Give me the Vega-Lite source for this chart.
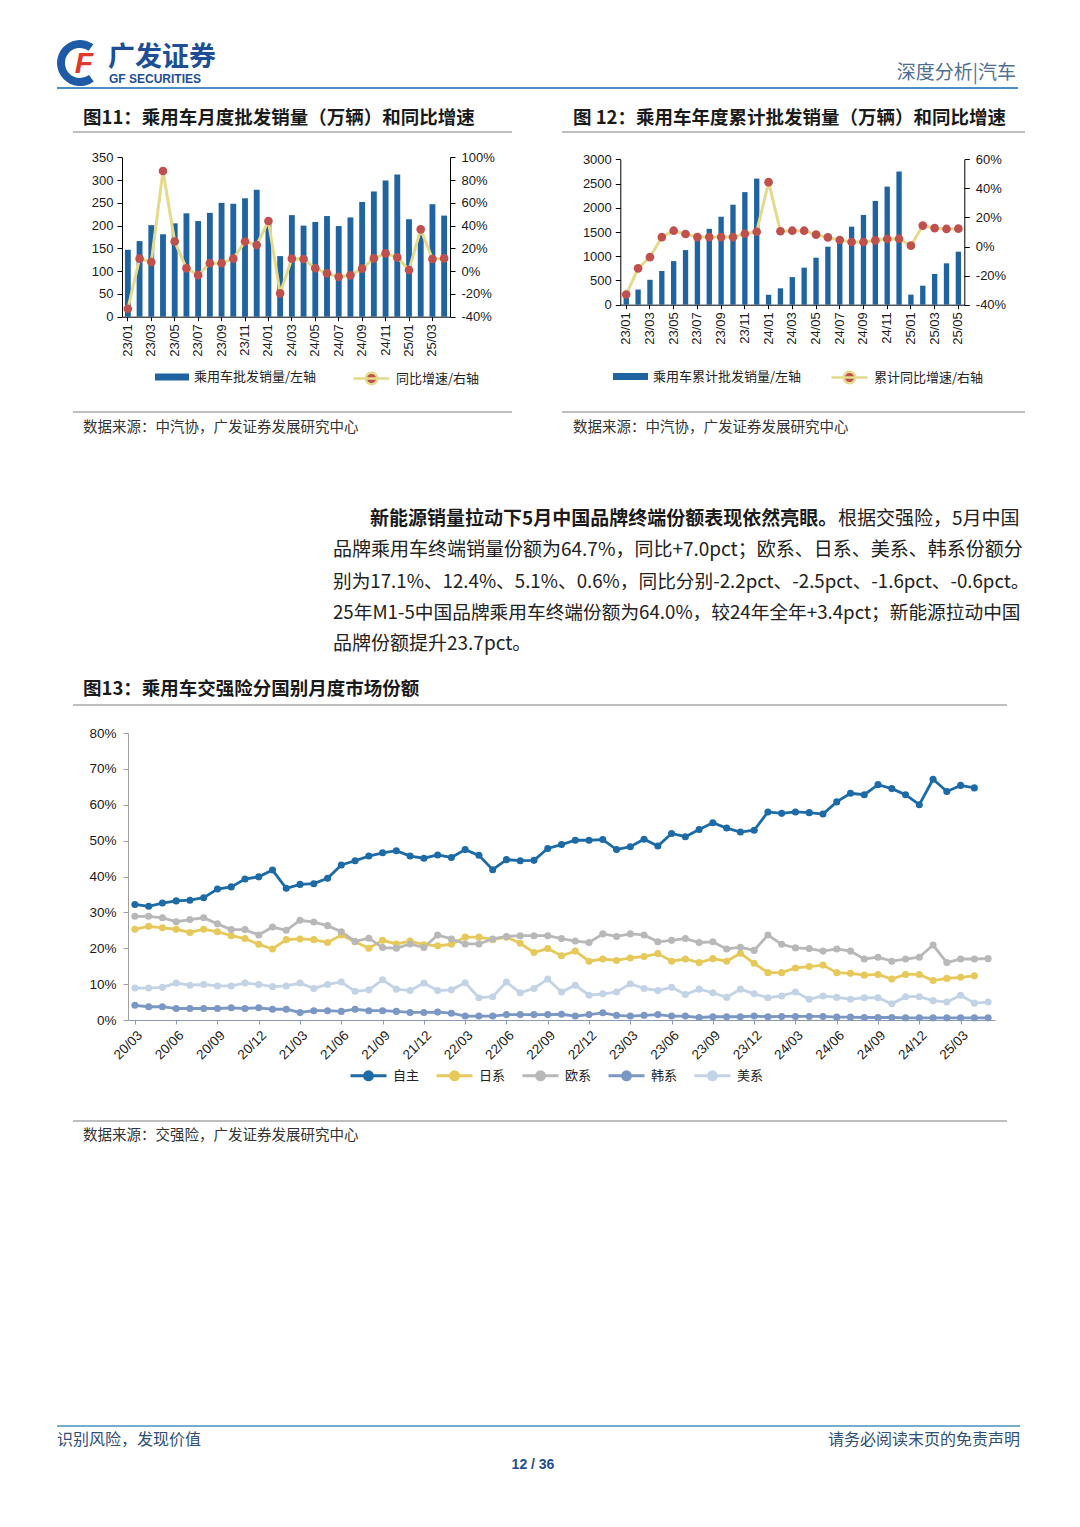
{
  "$schema": "https://vega.github.io/schema/vega-lite/v6.json",
  "width": 1080,
  "height": 1527,
  "autosize": {"type": "none"},
  "padding": 0,
  "background": "white",
  "config": {
    "view": {"stroke": null},
    "axis": {"labelFont": "Liberation Sans", "labelColor": "#1a1a1a", "labelFontSize": 13, "grid": false, "title": null, "domainColor": "#000000", "tickColor": "#000000"},
    "legend": {"labelFont": "Noto Sans CJK SC", "labelFontSize": 13, "labelColor": "#222222", "title": null},
    "text": {"font": "Noto Sans CJK SC"}
  },
  "datasets": {
    "one": [{"k": 1}],
    "m11": [
      {"m": "23/01", "sales": 147, "yoy": -33}, {"m": "23/02", "sales": 166, "yoy": 11}, {"m": "23/03", "sales": 201, "yoy": 8},
      {"m": "23/04", "sales": 181, "yoy": 88}, {"m": "23/05", "sales": 205, "yoy": 26}, {"m": "23/06", "sales": 227, "yoy": 2.5},
      {"m": "23/07", "sales": 210, "yoy": -3.5}, {"m": "23/08", "sales": 228, "yoy": 7}, {"m": "23/09", "sales": 250, "yoy": 7},
      {"m": "23/10", "sales": 248, "yoy": 11}, {"m": "23/11", "sales": 260, "yoy": 26}, {"m": "23/12", "sales": 279, "yoy": 23},
      {"m": "24/01", "sales": 205, "yoy": 44}, {"m": "24/02", "sales": 133, "yoy": -19.5}, {"m": "24/03", "sales": 223, "yoy": 11},
      {"m": "24/04", "sales": 200, "yoy": 10.7}, {"m": "24/05", "sales": 208, "yoy": 2.5}, {"m": "24/06", "sales": 221, "yoy": -2},
      {"m": "24/07", "sales": 199, "yoy": -5}, {"m": "24/08", "sales": 218, "yoy": -3.7}, {"m": "24/09", "sales": 252, "yoy": 2.2},
      {"m": "24/10", "sales": 275, "yoy": 11.2}, {"m": "24/11", "sales": 299, "yoy": 15.6}, {"m": "24/12", "sales": 312, "yoy": 12.1},
      {"m": "25/01", "sales": 214, "yoy": 1}, {"m": "25/02", "sales": 181, "yoy": 36.7}, {"m": "25/03", "sales": 247, "yoy": 10.7},
      {"m": "25/04", "sales": 222, "yoy": 11.2}
    ],
    "m12": [
      {"m": "23/01", "cum": 147, "yoy": -33}, {"m": "23/02", "cum": 313, "yoy": -15}, {"m": "23/03", "cum": 514, "yoy": -7.3},
      {"m": "23/04", "cum": 695, "yoy": 6.5}, {"m": "23/05", "cum": 900, "yoy": 10.9}, {"m": "23/06", "cum": 1127, "yoy": 8.6},
      {"m": "23/07", "cum": 1337, "yoy": 6.5}, {"m": "23/08", "cum": 1565, "yoy": 6.5}, {"m": "23/09", "cum": 1815, "yoy": 6.5},
      {"m": "23/10", "cum": 2063, "yoy": 6.5}, {"m": "23/11", "cum": 2323, "yoy": 8.8}, {"m": "23/12", "cum": 2602, "yoy": 10.2},
      {"m": "24/01", "cum": 205, "yoy": 44.3}, {"m": "24/02", "cum": 338, "yoy": 10.5}, {"m": "24/03", "cum": 570, "yoy": 10.9},
      {"m": "24/04", "cum": 764, "yoy": 10.9}, {"m": "24/05", "cum": 970, "yoy": 8.2}, {"m": "24/06", "cum": 1197, "yoy": 6.3},
      {"m": "24/07", "cum": 1395, "yoy": 4.5}, {"m": "24/08", "cum": 1610, "yoy": 3.1}, {"m": "24/09", "cum": 1852, "yoy": 3.1},
      {"m": "24/10", "cum": 2141, "yoy": 4.2}, {"m": "24/11", "cum": 2436, "yoy": 5.2}, {"m": "24/12", "cum": 2746, "yoy": 5.4},
      {"m": "25/01", "cum": 208, "yoy": 0.6}, {"m": "25/02", "cum": 392, "yoy": 14.4}, {"m": "25/03", "cum": 634, "yoy": 12.7},
      {"m": "25/04", "cum": 854, "yoy": 12.1}, {"m": "25/05", "cum": 1094, "yoy": 12.3}
    ],
    "m13": [
      {"m": "20/03", "自主": 32.2, "日系": 25.3, "欧系": 28.9, "韩系": 4.1, "美系": 8.9},
      {"m": "20/04", "自主": 31.7, "日系": 26.1, "欧系": 28.9, "韩系": 3.7, "美系": 8.9},
      {"m": "20/05", "自主": 32.6, "日系": 25.7, "欧系": 28.5, "韩系": 3.7, "美系": 9.1},
      {"m": "20/06", "自主": 33.2, "日系": 25.3, "欧系": 27.4, "韩系": 3.2, "美系": 10.3},
      {"m": "20/07", "自主": 33.4, "日系": 24.4, "欧系": 28.0, "韩系": 3.2, "美系": 9.7},
      {"m": "20/08", "自主": 34.1, "日系": 25.3, "欧系": 28.5, "韩系": 3.2, "美系": 9.9},
      {"m": "20/09", "自主": 36.5, "日系": 24.6, "欧系": 26.8, "韩系": 3.2, "美系": 9.5},
      {"m": "20/10", "自主": 37.1, "日系": 23.5, "欧系": 25.2, "韩系": 3.4, "美系": 9.5},
      {"m": "20/11", "自主": 39.3, "日系": 22.7, "欧系": 25.2, "韩系": 3.2, "美系": 10.3},
      {"m": "20/12", "自主": 39.9, "日系": 21.1, "欧系": 23.7, "韩系": 3.4, "美系": 9.9},
      {"m": "21/01", "自主": 41.8, "日系": 19.8, "欧系": 25.9, "韩系": 3.0, "美系": 9.3},
      {"m": "21/02", "自主": 36.7, "日系": 22.4, "欧系": 25.0, "韩系": 3.0, "美系": 9.5},
      {"m": "21/03", "自主": 37.8, "日系": 22.6, "欧系": 27.8, "韩系": 2.1, "美系": 10.3},
      {"m": "21/04", "自主": 38.0, "日系": 22.4, "欧系": 27.3, "韩系": 2.6, "美系": 8.8},
      {"m": "21/05", "自主": 39.5, "日系": 21.6, "欧系": 26.3, "韩系": 2.6, "美系": 9.9},
      {"m": "21/06", "自主": 43.2, "日系": 23.7, "欧系": 24.6, "韩系": 2.4, "美系": 10.6},
      {"m": "21/07", "自主": 44.4, "日系": 21.8, "欧系": 21.9, "韩系": 3.0, "美系": 8.0},
      {"m": "21/08", "自主": 45.7, "日系": 20.0, "欧系": 22.8, "韩系": 2.6, "美系": 8.4},
      {"m": "21/09", "自主": 46.6, "日系": 22.2, "欧系": 20.2, "韩系": 2.6, "美系": 11.2},
      {"m": "21/10", "自主": 47.2, "日系": 21.2, "欧系": 20.0, "韩系": 2.4, "美系": 8.6},
      {"m": "21/11", "自主": 45.7, "日系": 22.0, "欧系": 21.2, "韩系": 2.1, "美系": 8.2},
      {"m": "21/12", "自主": 45.1, "日系": 21.0, "欧系": 20.2, "韩系": 2.1, "美系": 10.3},
      {"m": "22/01", "自主": 46.0, "日系": 20.7, "欧系": 23.7, "韩系": 2.2, "美系": 8.2},
      {"m": "22/02", "自主": 45.3, "日系": 21.1, "欧系": 22.6, "韩系": 1.9, "美系": 8.4},
      {"m": "22/03", "自主": 47.5, "日系": 23.1, "欧系": 21.2, "韩系": 1.1, "美系": 10.4},
      {"m": "22/04", "自主": 45.9, "日系": 23.1, "欧系": 21.2, "韩系": 1.1, "美系": 6.2},
      {"m": "22/05", "自主": 41.9, "日系": 22.4, "欧系": 22.6, "韩系": 1.1, "美系": 6.5},
      {"m": "22/06", "自主": 44.7, "日系": 23.1, "欧系": 23.3, "韩系": 1.5, "美系": 10.6},
      {"m": "22/07", "自主": 44.4, "日系": 21.4, "欧系": 23.5, "韩系": 1.5, "美系": 7.6},
      {"m": "22/08", "自主": 44.5, "日系": 18.8, "欧系": 23.5, "韩系": 1.5, "美系": 8.8},
      {"m": "22/09", "自主": 47.8, "日系": 19.9, "欧系": 23.5, "韩系": 1.5, "美系": 11.4},
      {"m": "22/10", "自主": 48.9, "日系": 17.9, "欧系": 22.7, "韩系": 1.6, "美系": 7.8},
      {"m": "22/11", "自主": 50.1, "日系": 19.2, "欧系": 22.0, "韩系": 1.1, "美系": 9.7},
      {"m": "22/12", "自主": 50.1, "日系": 16.4, "欧系": 21.6, "韩系": 1.5, "美系": 6.9},
      {"m": "23/01", "自主": 50.3, "日系": 17.0, "欧系": 24.0, "韩系": 2.0, "美系": 7.3},
      {"m": "23/02", "自主": 47.5, "日系": 16.6, "欧系": 23.3, "韩系": 1.3, "美系": 7.8},
      {"m": "23/03", "自主": 48.3, "日系": 17.3, "欧系": 24.0, "韩系": 1.1, "美系": 10.1},
      {"m": "23/04", "自主": 50.4, "日系": 17.7, "欧系": 23.7, "韩系": 1.3, "美系": 8.8},
      {"m": "23/05", "自主": 48.5, "日系": 18.5, "欧系": 21.8, "韩系": 1.5, "美系": 8.2},
      {"m": "23/06", "自主": 52.0, "日系": 16.4, "欧系": 22.2, "韩系": 1.1, "美系": 9.1},
      {"m": "23/07", "自主": 51.1, "日系": 17.0, "欧系": 22.7, "韩系": 1.1, "美系": 7.1},
      {"m": "23/08", "自主": 53.1, "日系": 16.0, "欧系": 21.6, "韩系": 0.7, "美系": 8.6},
      {"m": "23/09", "自主": 55.0, "日系": 17.1, "欧系": 21.8, "韩系": 0.9, "美系": 7.6},
      {"m": "23/10", "自主": 53.5, "日系": 16.4, "欧系": 19.8, "韩系": 0.9, "美系": 6.3},
      {"m": "23/11", "自主": 52.4, "日系": 18.6, "欧系": 20.3, "韩系": 0.9, "美系": 8.6},
      {"m": "23/12", "自主": 52.9, "日系": 15.8, "欧系": 19.4, "韩系": 1.1, "美系": 7.3},
      {"m": "24/01", "自主": 58.0, "日系": 13.2, "欧系": 23.7, "韩系": 0.9, "美系": 6.2},
      {"m": "24/02", "自主": 57.6, "日系": 13.2, "欧系": 21.1, "韩系": 1.0, "美系": 6.7},
      {"m": "24/03", "自主": 58.0, "日系": 14.5, "欧系": 20.1, "韩系": 1.0, "美系": 7.8},
      {"m": "24/04", "自主": 57.8, "日系": 14.9, "欧系": 19.9, "韩系": 1.0, "美系": 5.8},
      {"m": "24/05", "自主": 57.4, "日系": 15.3, "欧系": 19.2, "韩系": 1.0, "美系": 6.7},
      {"m": "24/06", "自主": 60.8, "日系": 13.2, "欧系": 19.8, "韩系": 0.8, "美系": 6.3},
      {"m": "24/07", "自主": 63.2, "日系": 13.0, "欧系": 19.2, "韩系": 0.8, "美系": 5.8},
      {"m": "24/08", "自主": 62.8, "日系": 12.5, "欧系": 17.0, "韩系": 0.7, "美系": 6.2},
      {"m": "24/09", "自主": 65.6, "日系": 12.7, "欧系": 17.5, "韩系": 0.7, "美系": 6.2},
      {"m": "24/10", "自主": 64.5, "日系": 11.4, "欧系": 16.4, "韩系": 0.7, "美系": 4.5},
      {"m": "24/11", "自主": 62.8, "日系": 12.7, "欧系": 17.0, "韩系": 0.6, "美系": 6.5},
      {"m": "24/12", "自主": 60.0, "日系": 12.7, "欧系": 17.5, "韩系": 0.6, "美系": 6.5},
      {"m": "25/01", "自主": 67.1, "日系": 11.0, "欧系": 20.9, "韩系": 0.6, "美系": 5.4},
      {"m": "25/02", "自主": 63.7, "日系": 11.6, "欧系": 16.0, "韩系": 0.6, "美系": 5.0},
      {"m": "25/03", "自主": 65.4, "日系": 11.9, "欧系": 17.0, "韩系": 0.6, "美系": 6.9},
      {"m": "25/04", "自主": 64.7, "日系": 12.3, "欧系": 17.0, "韩系": 0.6, "美系": 4.7},
      {"m": "25/05", "欧系": 17.1, "韩系": 0.6, "美系": 5.0}
    ]
  },
  "data": {"name": "one"},
  "layer": [
    {"mark": {"type": "arc", "color": "#1F5AA6", "innerRadius": 15, "outerRadius": 23, "theta": 2.5, "theta2": 6.9}, "encoding": {"x": {"value": 80}, "y": {"value": 63}}},
    {"mark": {"type": "text", "text": "F", "font": "Liberation Sans", "fontSize": 30, "fontWeight": "bold", "fontStyle": "italic", "color": "#E2382B", "align": "center", "baseline": "middle"}, "encoding": {"x": {"value": 84}, "y": {"value": 64}}},
    {"mark": {"type": "text", "text": "广发证券", "fontSize": 27, "fontWeight": "bold", "color": "#1D4E96", "align": "left", "baseline": "middle"}, "encoding": {"x": {"value": 108}, "y": {"value": 58}}},
    {"mark": {"type": "text", "text": "GF SECURITIES", "font": "Liberation Sans", "fontSize": 12, "fontWeight": "bold", "color": "#1D4E96", "align": "left", "baseline": "middle"}, "encoding": {"x": {"value": 109}, "y": {"value": 79}}},
    {"mark": {"type": "text", "text": "深度分析|汽车", "fontSize": 19, "color": "#4E6E92", "align": "right", "baseline": "middle"}, "encoding": {"x": {"value": 1016}, "y": {"value": 73}}},
    {"mark": {"type": "rule", "color": "#4A90C2", "strokeWidth": 2}, "encoding": {"x": {"value": 57}, "x2": {"value": 1018}, "y": {"value": 88}}},
    {"mark": {"type": "text", "text": "图11：乘用车月度批发销量（万辆）和同比增速", "fontSize": 18.5, "fontWeight": "bold", "color": "#1a1a1a", "align": "left", "baseline": "middle"}, "encoding": {"x": {"value": 83}, "y": {"value": 118}}},
    {"mark": {"type": "text", "text": "图 12：乘用车年度累计批发销量（万辆）和同比增速", "fontSize": 18.5, "fontWeight": "bold", "color": "#1a1a1a", "align": "left", "baseline": "middle"}, "encoding": {"x": {"value": 573}, "y": {"value": 118}}},
    {"mark": {"type": "rule", "color": "#7f7f7f", "strokeWidth": 1.2}, "encoding": {"x": {"value": 73}, "x2": {"value": 512}, "y": {"value": 132}}},
    {"mark": {"type": "rule", "color": "#7f7f7f", "strokeWidth": 1.2}, "encoding": {"x": {"value": 562}, "x2": {"value": 1025}, "y": {"value": 132}}},
    {"mark": {"type": "rule", "color": "#7f7f7f", "strokeWidth": 1.2}, "encoding": {"x": {"value": 73}, "x2": {"value": 512}, "y": {"value": 412}}},
    {"mark": {"type": "rule", "color": "#7f7f7f", "strokeWidth": 1.2}, "encoding": {"x": {"value": 562}, "x2": {"value": 1025}, "y": {"value": 412}}},
    {"mark": {"type": "text", "text": "数据来源：中汽协，广发证券发展研究中心", "fontSize": 14.5, "color": "#333333", "align": "left", "baseline": "middle"}, "encoding": {"x": {"value": 83}, "y": {"value": 428}}},
    {"mark": {"type": "text", "text": "数据来源：中汽协，广发证券发展研究中心", "fontSize": 14.5, "color": "#333333", "align": "left", "baseline": "middle"}, "encoding": {"x": {"value": 573}, "y": {"value": 428}}},
    {"mark": {"type": "text", "text": "新能源销量拉动下5月中国品牌终端份额表现依然亮眼。", "fontSize": 19, "fontWeight": "bold", "color": "#1a1a1a", "align": "left", "baseline": "middle"}, "encoding": {"x": {"value": 370}, "y": {"value": 519}}},
    {"mark": {"type": "text", "text": "根据交强险，5月中国", "fontSize": 19, "color": "#222222", "align": "left", "baseline": "middle"}, "encoding": {"x": {"value": 838}, "y": {"value": 519}}},
    {"mark": {"type": "text", "text": "品牌乘用车终端销量份额为64.7%，同比+7.0pct；欧系、日系、美系、韩系份额分", "fontSize": 19, "color": "#222222", "align": "left", "baseline": "middle"}, "encoding": {"x": {"value": 333}, "y": {"value": 550}}},
    {"mark": {"type": "text", "text": "别为17.1%、12.4%、5.1%、0.6%，同比分别-2.2pct、-2.5pct、-1.6pct、-0.6pct。", "fontSize": 18.7, "color": "#222222", "align": "left", "baseline": "middle"}, "encoding": {"x": {"value": 333}, "y": {"value": 582}}},
    {"mark": {"type": "text", "text": "25年M1-5中国品牌乘用车终端份额为64.0%，较24年全年+3.4pct；新能源拉动中国", "fontSize": 18.7, "color": "#222222", "align": "left", "baseline": "middle"}, "encoding": {"x": {"value": 333}, "y": {"value": 613}}},
    {"mark": {"type": "text", "text": "品牌份额提升23.7pct。", "fontSize": 19, "color": "#222222", "align": "left", "baseline": "middle"}, "encoding": {"x": {"value": 333}, "y": {"value": 644}}},
    {"mark": {"type": "text", "text": "图13：乘用车交强险分国别月度市场份额", "fontSize": 18.5, "fontWeight": "bold", "color": "#1a1a1a", "align": "left", "baseline": "middle"}, "encoding": {"x": {"value": 83}, "y": {"value": 689}}},
    {"mark": {"type": "rule", "color": "#7f7f7f", "strokeWidth": 1.2}, "encoding": {"x": {"value": 73}, "x2": {"value": 1007}, "y": {"value": 705}}},
    {"mark": {"type": "rule", "color": "#7f7f7f", "strokeWidth": 1.2}, "encoding": {"x": {"value": 73}, "x2": {"value": 1007}, "y": {"value": 1121}}},
    {"mark": {"type": "text", "text": "数据来源：交强险，广发证券发展研究中心", "fontSize": 14.5, "color": "#333333", "align": "left", "baseline": "middle"}, "encoding": {"x": {"value": 83}, "y": {"value": 1136}}},
    {"mark": {"type": "rule", "color": "#4A90C2", "strokeWidth": 1.5}, "encoding": {"x": {"value": 57}, "x2": {"value": 1020}, "y": {"value": 1426}}},
    {"mark": {"type": "text", "text": "识别风险，发现价值", "fontSize": 16, "color": "#2F4F75", "align": "left", "baseline": "middle"}, "encoding": {"x": {"value": 57}, "y": {"value": 1440}}},
    {"mark": {"type": "text", "text": "请务必阅读末页的免责声明", "fontSize": 16, "color": "#2F4F75", "align": "right", "baseline": "middle"}, "encoding": {"x": {"value": 1020}, "y": {"value": 1440}}},
    {"mark": {"type": "text", "text": "12 / 36", "font": "Liberation Sans", "fontSize": 14, "fontWeight": "bold", "color": "#1E4E8C", "align": "center", "baseline": "middle"}, "encoding": {"x": {"value": 533}, "y": {"value": 1465}}},
    {
      "data": {"name": "m11"},
      "encoding": {
        "x": {"field": "m", "type": "ordinal", "sort": null, "scale": {"type": "band", "paddingInner": 0.5, "paddingOuter": 0.25, "range": [122, 450]},
          "axis": {"orient": "bottom", "offset": -1210.3, "values": ["23/01","23/03","23/05","23/07","23/09","23/11","24/01","24/03","24/05","24/07","24/09","24/11","25/01","25/03"], "labelAngle": -90, "tickSize": 4, "labelPadding": 3, "title": null}}
      },
      "layer": [
        {
          "mark": {"type": "bar"},
          "encoding": {
            "y": {"field": "sales", "type": "quantitative", "scale": {"domain": [0, 350], "nice": false, "range": [316.7, 157.3]},
              "axis": {"orient": "left", "offset": -122, "values": [0,50,100,150,200,250,300,350], "tickSize": 5, "labelPadding": 4, "title": null}},
            "fill": {"datum": "乘用车批发销量/左轴", "scale": {"range": ["#1F64A0"]},
              "legend": {"orient": "none", "legendX": 155, "legendY": 360, "symbolType": "M-1,-0.2L1,-0.2L1,0.2L-1,0.2Z", "symbolSize": 1156, "labelOffset": 5, "symbolStrokeWidth": 0}}
          }
        },
        {
          "encoding": {
            "y": {"field": "yoy", "type": "quantitative", "scale": {"domain": [-40, 100], "nice": false, "range": [316.7, 157.3]},
              "axis": {"orient": "right", "offset": -630, "values": [-40,-20,0,20,40,60,80,100], "labelExpr": "datum.value + '%'", "tickSize": 5, "labelPadding": 6, "title": null}}
          },
          "layer": [
            {
              "mark": {"type": "line", "strokeWidth": 3},
              "encoding": {
                "x": {"field": "m", "type": "ordinal", "sort": null, "bandPosition": 0.5},
                "stroke": {"datum": "同比增速/右轴", "scale": {"range": ["#E4DA8C"]},
                  "legend": {"orient": "none", "legendX": 352, "legendY": 359, "symbolType": "M-1,0L1,0M0.32,0A0.32,0.32,0,1,1,-0.32,0A0.32,0.32,0,1,1,0.32,0", "symbolSize": 1296, "symbolStrokeWidth": 2.5, "symbolFillColor": "#C0504D", "symbolOpacity": 1, "labelOffset": 5,
                    "encode": {"symbols": {"update": {"fill": {"value": "#C0504D"}, "fillOpacity": {"value": 1}, "opacity": {"value": 1}, "stroke": {"value": "#E4DA8C"}, "strokeWidth": {"value": 2.5}}}}}
                }
              }
            },
            {
              "mark": {"type": "point", "filled": true, "color": "#C0504D", "size": 75, "opacity": 1},
              "encoding": {"x": {"field": "m", "type": "ordinal", "sort": null, "bandPosition": 0.5}}
            }
          ]
        }
      ],
      "resolve": {"scale": {"y": "independent"}}
    },
    {
      "data": {"name": "m12"},
      "encoding": {
        "x": {"field": "m", "type": "ordinal", "sort": null, "scale": {"type": "band", "paddingInner": 0.55, "paddingOuter": 0.275, "range": [620.3, 964.3]},
          "axis": {"orient": "bottom", "offset": -1222.3, "values": ["23/01","23/03","23/05","23/07","23/09","23/11","24/01","24/03","24/05","24/07","24/09","24/11","25/01","25/03","25/05"], "labelAngle": -90, "tickSize": 4, "labelPadding": 3, "title": null}}
      },
      "layer": [
        {
          "mark": {"type": "bar"},
          "encoding": {
            "y": {"field": "cum", "type": "quantitative", "scale": {"domain": [0, 3000], "nice": false, "range": [304.7, 159.3]},
              "axis": {"orient": "left", "offset": -620.3, "values": [0,500,1000,1500,2000,2500,3000], "format": "d", "tickSize": 5, "labelPadding": 4, "title": null}},
            "fill": {"datum": "乘用车累计批发销量/左轴", "scale": {"range": ["#1F64A0"]},
              "legend": {"orient": "none", "legendX": 613, "legendY": 359, "symbolType": "M-1,-0.2L1,-0.2L1,0.2L-1,0.2Z", "symbolSize": 1225, "labelOffset": 5, "symbolStrokeWidth": 0}}
          }
        },
        {
          "encoding": {
            "y": {"field": "yoy", "type": "quantitative", "scale": {"domain": [-40, 60], "nice": false, "range": [304.7, 159.3]},
              "axis": {"orient": "right", "offset": -115.7, "values": [-40,-20,0,20,40,60], "labelExpr": "datum.value + '%'", "tickSize": 5, "labelPadding": 6, "title": null}}
          },
          "layer": [
            {
              "mark": {"type": "line", "strokeWidth": 3},
              "encoding": {
                "x": {"field": "m", "type": "ordinal", "sort": null, "bandPosition": 0.5},
                "stroke": {"datum": "累计同比增速/右轴", "scale": {"range": ["#E4DA8C"]},
                  "legend": {"orient": "none", "legendX": 830, "legendY": 358, "symbolType": "M-1,0L1,0M0.32,0A0.32,0.32,0,1,1,-0.32,0A0.32,0.32,0,1,1,0.32,0", "symbolSize": 1296, "symbolStrokeWidth": 2.5, "symbolFillColor": "#C0504D", "symbolOpacity": 1, "labelOffset": 5,
                    "encode": {"symbols": {"update": {"fill": {"value": "#C0504D"}, "fillOpacity": {"value": 1}, "opacity": {"value": 1}, "stroke": {"value": "#E4DA8C"}, "strokeWidth": {"value": 2.5}}}}}
                }
              }
            },
            {
              "mark": {"type": "point", "filled": true, "color": "#C0504D", "size": 75, "opacity": 1},
              "encoding": {"x": {"field": "m", "type": "ordinal", "sort": null, "bandPosition": 0.5}}
            }
          ]
        }
      ],
      "resolve": {"scale": {"y": "independent"}}
    },
    {
      "data": {"name": "m13"},
      "transform": [
        {"fold": ["自主", "日系", "欧系", "韩系", "美系"], "as": ["s", "v"]},
        {"filter": "isValid(datum.v)"}
      ],
      "mark": {"type": "line", "strokeWidth": 2.8, "point": {"filled": true, "size": 50}},
      "encoding": {
        "x": {"field": "m", "type": "ordinal", "sort": null, "scale": {"type": "point", "padding": 0.5, "range": [128, 995]},
          "axis": {"orient": "bottom", "offset": -507, "values": ["20/03","20/06","20/09","20/12","21/03","21/06","21/09","21/12","22/03","22/06","22/09","22/12","23/03","23/06","23/09","23/12","24/03","24/06","24/09","24/12","25/03"], "labelAngle": -45, "labelFontSize": 13.5, "tickSize": 4, "labelPadding": 4, "domainColor": "#8a9bb8", "tickColor": "#8a9bb8", "title": null}},
        "y": {"field": "v", "type": "quantitative", "scale": {"domain": [0, 80], "nice": false, "range": [1020, 733]},
          "axis": {"orient": "left", "offset": -128, "values": [0,10,20,30,40,50,60,70,80], "labelExpr": "datum.value + '%'", "labelFontSize": 13.5, "tickSize": 5, "labelPadding": 7, "domainColor": "#a0a0a0", "tickColor": "#a0a0a0", "title": null}},
        "color": {"field": "s", "type": "nominal", "sort": ["自主", "日系", "欧系", "韩系", "美系"],
          "scale": {"domain": ["自主", "日系", "欧系", "韩系", "美系"], "range": ["#1C6AA6", "#E6C95A", "#B8B8B8", "#7B97C4", "#C3D3E6"]},
          "legend": {"orient": "none", "legendX": 349, "legendY": 1056, "direction": "horizontal", "columns": 5, "columnPadding": 10, "labelOffset": 5,
            "symbolType": "M-1,0L1,0M0.22,0A0.22,0.22,0,1,1,-0.22,0A0.22,0.22,0,1,1,0.22,0", "symbolSize": 1296, "symbolStrokeWidth": 3,
            "encode": {"symbols": {"update": {"fill": {"scale": "color", "field": "value"}, "stroke": {"scale": "color", "field": "value"}, "strokeWidth": {"value": 3}}}}}
        }
      }
    }
  ],
  "resolve": {
    "scale": {"x": "independent", "y": "independent", "fill": "independent", "stroke": "independent", "color": "independent"},
    "axis": {"x": "independent", "y": "independent"},
    "legend": {"fill": "independent", "stroke": "independent", "color": "independent"}
  }
}
